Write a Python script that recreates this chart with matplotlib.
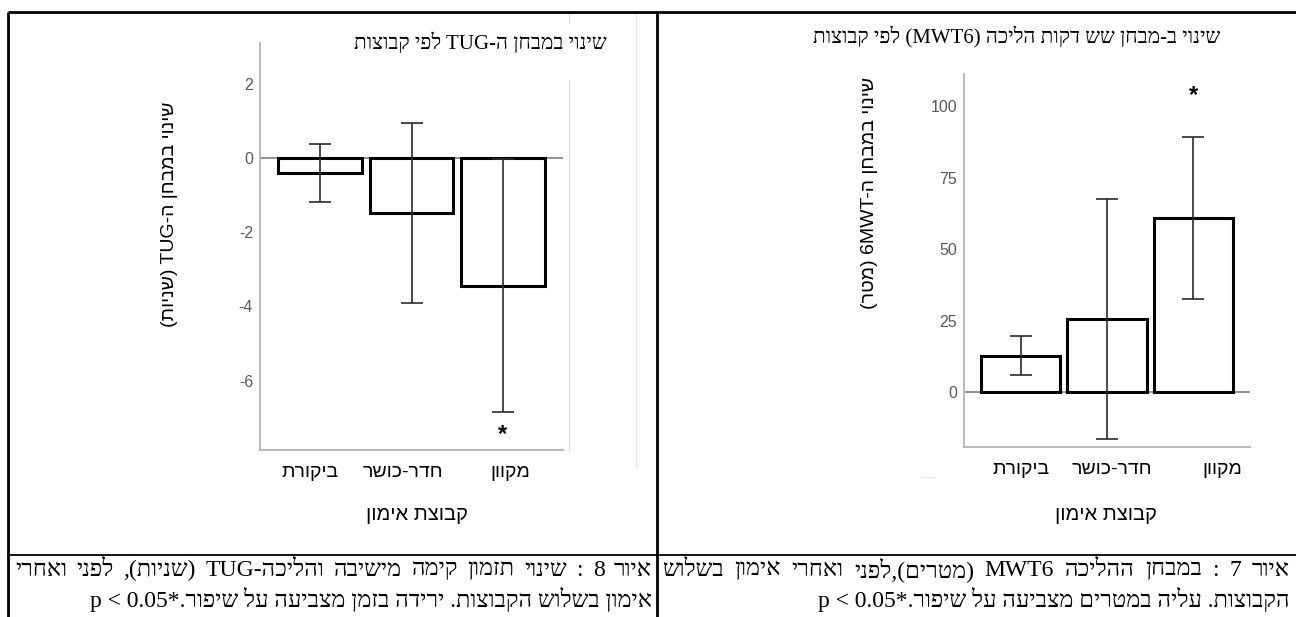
import re
import matplotlib
matplotlib.use('Agg')
import matplotlib.pyplot as plt
from matplotlib.lines import Line2D

plt.rcParams['font.family'] = ['Liberation Sans', 'DejaVu Sans']
plt.rcParams['axes.unicode_minus'] = False

W, H = 1296, 617
SERIF = ['Liberation Serif', 'DejaVu Serif']

# groups, left to right
groups = ['ביקורת', 'חדר-כושר', 'מקוון']

# TUG change (seconds): mean and error-bar ends
tug_mean = [-0.40, -1.48, -3.45]
tug_lo = [-1.19, -3.91, -6.85]
tug_hi = [0.38, 0.94, -0.03]
tug_ticks = [-6, -4, -2, 0, 2]

# 6MWT change (meters): mean and error-bar ends
mwt_mean = [12.6, 25.5, 60.8]
mwt_lo = [5.9, -16.4, 32.5]
mwt_hi = [19.6, 67.5, 89.2]
mwt_ticks = [0, 25, 50, 75, 100]

tug_title = 'שינוי במבחן ה-TUG לפי קבוצות'
tug_ylabel = 'שינוי במבחן ה-TUG (שניות)'
mwt_title = 'שינוי ב-מבחן שש דקות הליכה (MWT6) לפי קבוצות'
mwt_ylabel = 'שינוי במבחן ה-6MWT (מטר)'
xlabel = 'קבוצת אימון'

cap8 = ['איור 8 : שינוי תזמון קימה מישיבה והליכה-TUG (שניות), לפני ואחרי',
        'אימון בשלוש הקבוצות. ירידה בזמן מצביעה על שיפור.*p < 0.05']
cap7 = ['איור 7 : במבחן ההליכה MWT6 (מטרים),לפני ואחרי אימון בשלוש',
        'הקבוצות. עליה במטרים מצביעה על שיפור.*p < 0.05']

LTR = re.compile(r'([A-Za-z0-9][A-Za-z0-9 .<>]*[A-Za-z0-9]|[A-Za-z0-9])')
MIRROR = str.maketrans('()<>[]', ')(><][')


def rtl(s):
    # simple visual reordering for right-to-left text with latin runs
    parts = LTR.split(s)
    out = []
    for i, p in enumerate(parts):
        if i % 2:
            out.append(p)
        else:
            out.append(p[::-1].translate(MIRROR))
    return ''.join(out[::-1])


def box(x0, y0, x1, y1):
    return [x0 / W, 1 - y1 / H, (x1 - x0) / W, (y1 - y0) / H]


def ftext(x, y, s, **kw):
    return fig.text(x / W, 1 - y / H, s, **kw)


def fline(x0, y0, x1, y1, **kw):
    fig.add_artist(Line2D([x0 / W, x1 / W], [1 - y0 / H, 1 - y1 / H],
                          transform=fig.transFigure, **kw))


def justified(x0, x1, y, s, **kw):
    # spread the words of one line between x0 and x1
    renderer = fig.canvas.get_renderer()
    words = s.split(' ')
    texts, widths = [], []
    for w in words:
        t = ftext(0, y, w, ha='left', va='center', **kw)
        texts.append(t)
        widths.append(t.get_window_extent(renderer).width)
    gap = (x1 - x0 - sum(widths)) / (len(words) - 1)
    pos = x0
    for t, w in zip(texts, widths):
        t.set_x(pos / W)
        pos += w + gap


def bar_chart(ax, means, lo, hi, ticks, ylim, shift):
    x = list(range(len(means)))
    ax.bar(x, means, width=0.92, color='white', edgecolor='black',
           linewidth=2.2, zorder=2)
    yerr = [[m - l for m, l in zip(means, lo)], [h - m for m, h in zip(means, hi)]]
    ax.errorbar(x, means, yerr=yerr, fmt='none', ecolor='#2b2b2b',
                elinewidth=1.2, capsize=8, capthick=1.2, zorder=3)
    ax.axhline(0, color='#808080', lw=1.2, zorder=1)
    ax.set_xlim(-0.66, 2.66)
    ax.set_ylim(*ylim)
    ax.set_yticks(ticks)
    ax.set_xticks([i + s for i, s in zip(x, shift)])
    ax.set_xticklabels([rtl(g) for g in groups], fontsize=14, color='black')
    ax.tick_params(axis='y', length=0, pad=5, labelsize=11.5, labelcolor='#595959')
    ax.tick_params(axis='x', length=0, pad=10)
    for side in ['top', 'right']:
        ax.spines[side].set_visible(False)
    for side in ['left', 'bottom']:
        ax.spines[side].set_color('#b3b3b3')
        ax.spines[side].set_linewidth(1.3)
    return x


fig = plt.figure(figsize=(W / 100, H / 100), dpi=100)

# left panel: TUG
ax1 = fig.add_axes(box(260, 43, 563, 450))
x = bar_chart(ax1, tug_mean, tug_lo, tug_hi, tug_ticks, (-7.87, 3.1),
              [-0.11, -0.09, 0.08])
ax1.annotate('*', (x[2], tug_lo[2]), xytext=(0, -16), textcoords='offset points',
             ha='center', va='center', fontsize=17, fontweight='bold')
ftext(480, 43, rtl(tug_title), ha='center', va='center', fontsize=15, family=SERIF)
ftext(170, 214, rtl(tug_ylabel), ha='center', va='center', rotation=90, fontsize=14)
ftext(417, 514, rtl(xlabel), ha='center', va='center', fontsize=14.5)

# right panel: 6MWT
ax2 = fig.add_axes(box(964, 74, 1250, 447))
x = bar_chart(ax2, mwt_mean, mwt_lo, mwt_hi, mwt_ticks, (-19.2, 111.2),
              [0.0, 0.06, 0.34])
ax2.annotate('*', (x[2], mwt_hi[2]), xytext=(0, 30), textcoords='offset points',
             ha='center', va='center', fontsize=17, fontweight='bold')
ftext(1017, 37, rtl(mwt_title), ha='center', va='center', fontsize=15, family=SERIF)
ftext(869, 193, rtl(mwt_ylabel), ha='center', va='center', rotation=90, fontsize=14)
ftext(1106, 514, rtl(xlabel), ha='center', va='center', fontsize=14.5)

# faint edges of the pasted chart images
fline(569, 12, 569, 22, color='#dcdcdc', lw=1)
fline(569, 80, 569, 450, color='#dcdcdc', lw=1)
fline(636, 12, 636, 467, color='#e6e6e6', lw=1)
fline(922, 477, 935, 477, color='#e6e6e6', lw=1)

# table frame
tkw = dict(color='black', lw=2, solid_capstyle='butt')
fline(8, 12, 1296, 12, **tkw)
fline(8, 12, 8, 617, **tkw)
fline(657, 12, 657, 617, **tkw)
fline(8, 555, 1296, 555, lw=1.3, color='black')

# captions: first line justified, second right-aligned
ckw = dict(fontsize=17, family=SERIF)
justified(15, 652, 570, rtl(cap8[0]), **ckw)
ftext(652, 599, rtl(cap8[1]), ha='right', va='center', **ckw)
justified(662, 1290, 570, rtl(cap7[0]), **ckw)
ftext(1290, 599, rtl(cap7[1]), ha='right', va='center', **ckw)

fig.savefig('out.png', dpi=100, facecolor='white')
